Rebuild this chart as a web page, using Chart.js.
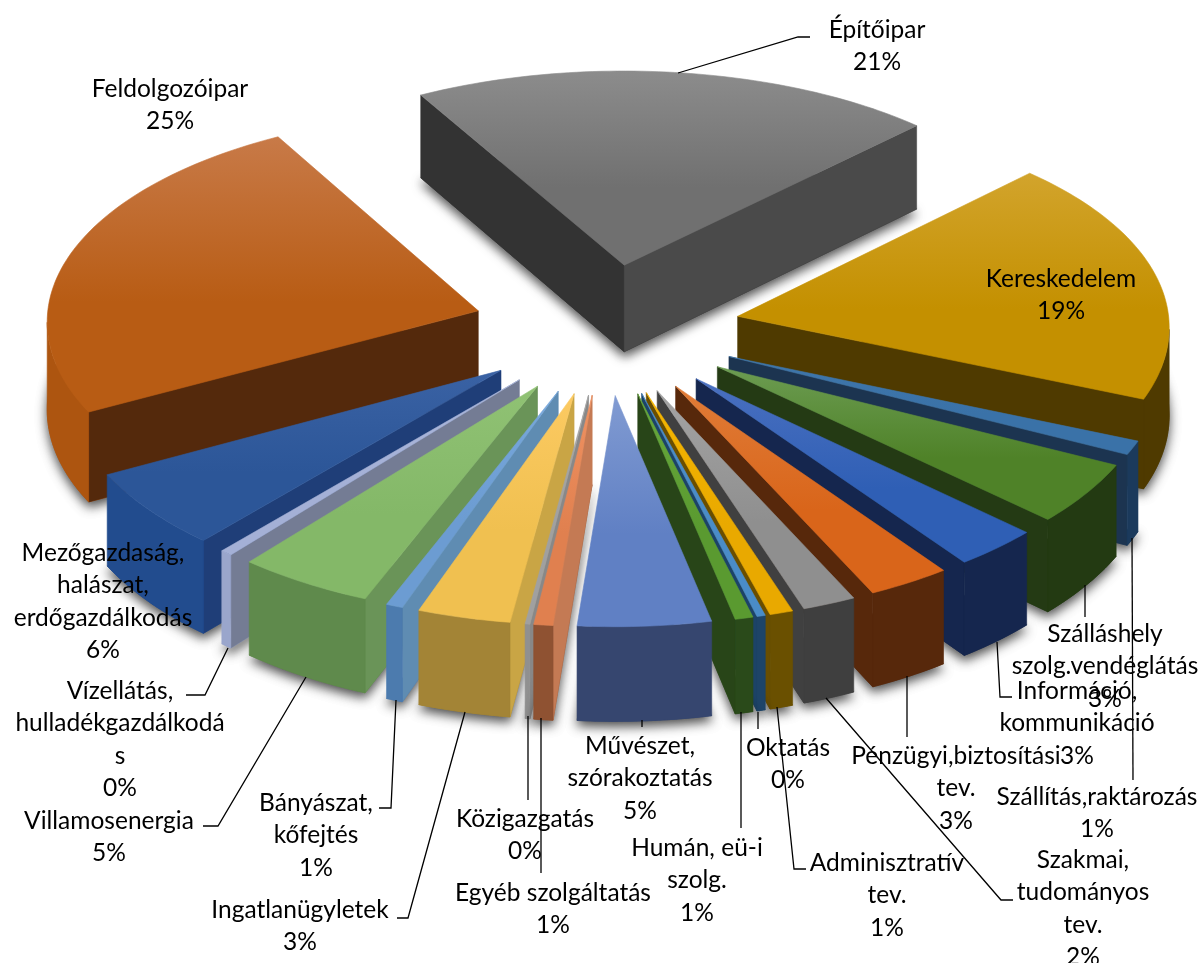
<!DOCTYPE html>
<html lang="hu">
<head>
<meta charset="utf-8">
<title>Ágazatok</title>
<script src="https://cdn.jsdelivr.net/npm/chart.js@4"></script>
<style>
    html, body { margin: 0; padding: 0; background: #fff; }
    canvas { display: block; }
</style>
</head>
<body>
<canvas id="pieChart" width="1204" height="963"></canvas>
<script>
// values, clockwise from the top slice
const categories = ['Építőipar', 'Kereskedelem', 'Szállítás,raktározás', 'Szálláshely szolg.vendéglátás', 'Információ, kommunikáció',
    'Pénzügyi,biztosítási tev.', 'Szakmai, tudományos tev.', 'Adminisztratív tev.', 'Oktatás', 'Humán, eü-i szolg.',
    'Művészet, szórakoztatás', 'Egyéb szolgáltatás', 'Közigazgatás', 'Ingatlanügyletek', 'Bányászat, kőfejtés',
    'Villamosenergia', 'Vízellátás, hulladékgazdálkodás', 'Mezőgazdaság, halászat, erdőgazdálkodás', 'Feldolgozóipar'];
const sliceValues = [20.7, 18.86, 1.05, 4.6, 3.05, 2.95, 1.9, 0.83, 0.3, 0.64, 4.73, 0.68, 0.17, 3.3, 0.6, 4.84, 0.43, 5.84, 24.65];
const shownPercents = ['21%', '19%', '1%', '3%', '3%', '3%', '2%', '1%', '0%', '1%', '5%', '1%', '0%', '3%', '1%', '5%', '0%', '6%', '25%'];

// colours of each slice
const topColors = ['#707070', '#c49000', '#3a72a8', '#4f8228', '#2f5fb5', '#d9651a', '#8f8f8f', '#e9a900', '#4a8cc8', '#5a9a30',
    '#6080c4', '#e0804f', '#a0a0a0', '#f0c050', '#6c9cd2', '#84b868', '#a4b0d6', '#2c5698', '#b85c14'];
const topLightColors = ['#8c8c8c', '#d2a42c', '#3f76aa', '#6c9c52', '#4a70c0', '#e07c38', '#a4a4a4', '#f5b600', '#4a8cc8', '#68a83c',
    '#819bd2', '#f09262', '#a8a8a8', '#fcca62', '#78a8dc', '#90c274', '#aab6da', '#3a62a4', '#c87a48'];
const wallColors = ['#333333', '#4f3a00', '#1c3450', '#243a14', '#15264e', '#57280b', '#404040', '#6a4e00', '#1c4368', '#284518',
    '#36466f', '#c47a54', '#888888', '#c9a545', '#5f8cb2', '#6a9458', '#747c94', '#1f3e78', '#54290c'];
const outerColors = ['#333333', '#4f3a00', '#1b3a5c', '#233a12', '#15264e', '#57280b', '#3f3f3f', '#6a5000', '#1e4468', '#2a4a1a',
    '#36466f', '#8f5232', '#909090', '#a38436', '#4c7bae', '#5f8a4c', '#9aa6cc', '#224c8e', '#ad5510'];
const buildingEndWall = '#4a4a4a';

// label text lines and where they sit (x = centre, y = middle of first line)
const labelLines = [
    ['Építőipar'], ['Kereskedelem'], ['Szállítás,raktározás'], ['Szálláshely', 'szolg.vendéglátás'], ['Információ,', 'kommunikáció'],
    ['Pénzügyi,biztosítási', 'tev.'], ['Szakmai,', 'tudományos', 'tev.'], ['Adminisztratív', 'tev.'], ['Oktatás'], ['Humán, eü-i', 'szolg.'],
    ['Művészet,', 'szórakoztatás'], ['Egyéb szolgáltatás'], ['Közigazgatás'], ['Ingatlanügyletek'], ['Bányászat,', 'kőfejtés'],
    ['Villamosenergia'], ['Vízellátás,', 'hulladékgazdálkodá', 's'], ['Mezőgazdaság,', 'halászat,', 'erdőgazdálkodás'], ['Feldolgozóipar']
];
const labelAnchors = [[877, 29], [1061, 278], [1097, 796], [1105, 633], [1077, 690], [956, 755], [1083, 859], [887, 862], [788, 747], [697, 847],
    [640, 745], [553, 892], [525, 818], [300, 909], [316, 802], [109, 820], [120, 690], [103, 552], [170, 88]];
const leaderLines = [
    [[678, 73], [798, 37], [810, 37]], [], [[1132, 538], [1133, 780]], [[1085, 585], [1085, 617]], [[997, 642], [1000, 697], [1012, 697]],
    [[907, 676], [907, 737]], [[826, 698], [1001, 900], [1013, 900]], [[777, 707], [794, 869], [806, 869]], [[758, 712], [758, 729]], [[741, 712], [741, 828]],
    [[642, 720], [642, 727]], [[541, 718], [541, 873]], [[528, 716], [528, 800]], [[465, 712], [408, 918], [397, 918]], [[396, 700], [391, 808], [379, 808]],
    [[306, 677], [218, 826], [203, 826]], [[228, 648], [205, 695], [186, 695]], [], []
];

// the look of the tilted pie
const view = { cx: 606.5, cy: 329, tilt: 0.489, depthX: 10500, depthY: 8000, height: 88 };

function project(gx, gy, drop) {
    const sx = 1 / (1 - gy / view.depthX);
    const sy = 1 / (1 - gy / view.depthY);
    return [view.cx + gx * sx, view.cy + view.tilt * gy * sy + drop * sy];
}

function fillPoly(ctx, pts, fill) {
    ctx.beginPath();
    pts.forEach((p, i) => i ? ctx.lineTo(p[0], p[1]) : ctx.moveTo(p[0], p[1]));
    ctx.closePath();
    ctx.fillStyle = fill;
    ctx.fill();
    ctx.strokeStyle = fill;
    ctx.lineWidth = 0.6;
    ctx.stroke();
}

function drawSlice(ctx, arc, i) {
    const mid = (arc.startAngle + arc.endAngle) / 2;
    const ox = Math.cos(mid) * arc.options.offset;
    const oy = Math.sin(mid) * arc.options.offset;
    const steps = Math.max(4, Math.ceil((arc.endAngle - arc.startAngle) / 0.02));
    const rim = [];
    for (let n = 0; n <= steps; n++) {
        const a = arc.startAngle + (arc.endAngle - arc.startAngle) * n / steps;
        rim.push([ox + Math.cos(a) * arc.outerRadius, oy + Math.sin(a) * arc.outerRadius]);
    }
    const rimTop = rim.map(p => project(p[0], p[1], 0));
    const rimBottom = rim.map(p => project(p[0], p[1], view.height));
    const apexTop = project(ox, oy, 0);
    const apexBottom = project(ox, oy, view.height);

    // soft shadow from the whole silhouette
    ctx.save();
    ctx.shadowColor = 'rgba(0,0,0,0.7)';
    ctx.shadowBlur = 11;
    ctx.shadowOffsetY = 5;
    fillPoly(ctx, [apexBottom].concat(rimBottom), outerColors[i]);
    ctx.restore();

    // radial walls, only those on the lower edge of the top face
    const first = rimTop[0], last = rimTop[steps];
    if (first[0] < apexTop[0]) {
        const pts = [apexTop, first, rimBottom[0], apexBottom];
        fillPoly(ctx, pts, wallColors[i]);
    }
    if (last[0] > apexTop[0]) {
        const pts = [apexTop, last, rimBottom[steps], apexBottom];
        fillPoly(ctx, pts, i === 0 ? buildingEndWall : wallColors[i]);
    }

    // outer wall, the part of the rim that runs right to left on screen faces us
    const front = [];
    for (let n = 0; n < steps; n++) {
        if (rimTop[n + 1][0] < rimTop[n][0]) front.push(n, n + 1);
    }
    if (front.length) {
        const from = front[0], to = front[front.length - 1];
        const pts = rimTop.slice(from, to + 1).concat(rimBottom.slice(from, to + 1).reverse());
        fillPoly(ctx, pts, outerColors[i]);
    }

    // top face
    const ys = rimTop.map(p => p[1]).concat(apexTop[1]);
    const grad = ctx.createLinearGradient(0, Math.min(...ys), 0, Math.max(...ys));
    grad.addColorStop(0, topLightColors[i]);
    grad.addColorStop(0.6, arc.options.backgroundColor);
    grad.addColorStop(1, arc.options.backgroundColor);
    fillPoly(ctx, [apexTop].concat(rimTop), grad);
}

const tiltedPie = {
    id: 'tiltedPie',
    beforeDatasetDraw(chart) {
        const ctx = chart.ctx;
        const arcs = chart.getDatasetMeta(0).data;
        const order = arcs.map((arc, i) => i).sort((a, b) => {
            const ma = (arcs[a].startAngle + arcs[a].endAngle) / 2;
            const mb = (arcs[b].startAngle + arcs[b].endAngle) / 2;
            return Math.sin(ma) - Math.sin(mb);
        });
        order.forEach(i => drawSlice(ctx, arcs[i], i));
        return false;
    },
    afterDraw(chart) {
        const ctx = chart.ctx;
        ctx.save();
        ctx.strokeStyle = '#000';
        ctx.lineWidth = 1.3;
        leaderLines.forEach(line => {
            if (!line.length) return;
            ctx.beginPath();
            line.forEach((p, i) => i ? ctx.lineTo(p[0], p[1]) : ctx.moveTo(p[0], p[1]));
            ctx.stroke();
        });
        ctx.fillStyle = '#000';
        ctx.font = '24.5px Lato';
        ctx.textAlign = 'center';
        ctx.textBaseline = 'middle';
        labelLines.forEach((lines, i) => {
            const x = labelAnchors[i][0], y = labelAnchors[i][1] + 1;
            lines.concat(shownPercents[i]).forEach((text, n) => ctx.fillText(text, x, y + n * 32.3));
        });
        ctx.restore();
    }
};

new Chart(document.getElementById('pieChart'), {
    type: 'pie',
    data: {
        labels: categories,
        datasets: [{
            data: sliceValues,
            backgroundColor: topColors,
            offset: 134,
            borderWidth: 0
        }]
    },
    options: {
        responsive: false,
        animation: false,
        rotation: -29.5,
        radius: 432,
        plugins: { legend: { display: false }, tooltip: { enabled: false } }
    },
    plugins: [tiltedPie]
});
</script>
</body>
</html>
